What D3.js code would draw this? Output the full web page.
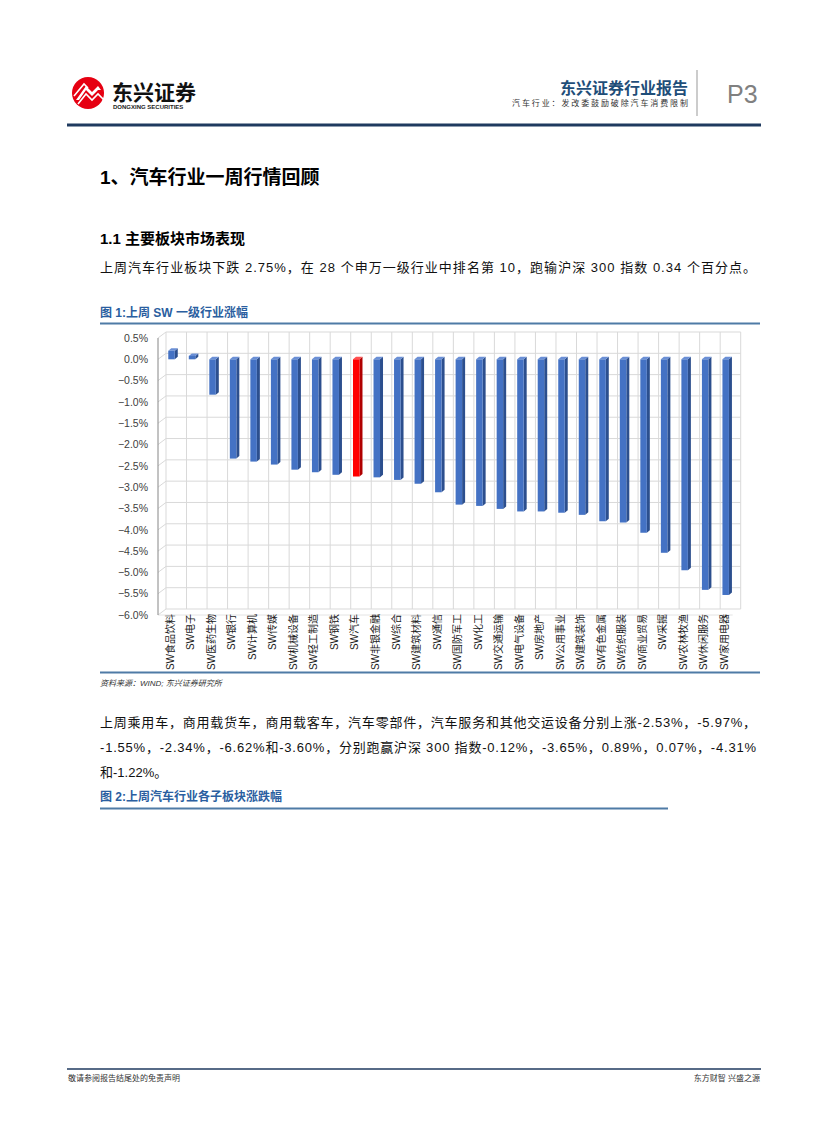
<!DOCTYPE html>
<html>
<head>
<meta charset="utf-8">
<script src="https://cdn.jsdelivr.net/npm/d3@7"></script>
<style>
  body { margin: 0; background: #fff; }
  svg { display: block; }
  text { font-family: "Liberation Sans", "Noto Sans CJK SC", sans-serif; }
</style>
</head>
<body>
<div id="page"></div>
<script>
// SW 一级行业 last week change (%)
const industries = ["SW食品饮料", "SW电子", "SW医药生物", "SW银行", "SW计算机", "SW传媒", "SW机械设备",
  "SW轻工制造", "SW钢铁", "SW汽车", "SW非银金融", "SW综合", "SW建筑材料", "SW通信", "SW国防军工",
  "SW化工", "SW交通运输", "SW电气设备", "SW房地产", "SW公用事业", "SW建筑装饰", "SW有色金属",
  "SW纺织服装", "SW商业贸易", "SW采掘", "SW农林牧渔", "SW休闲服务", "SW家用电器"];
const changes = [0.20, 0.08, -0.83, -2.33, -2.40, -2.47, -2.59, -2.65, -2.71, -2.75, -2.77, -2.83, -2.92,
  -3.12, -3.41, -3.44, -3.51, -3.57, -3.57, -3.60, -3.65, -3.80, -3.83, -4.07, -4.54, -4.95, -5.41, -5.53];
const yTicks = [0.5, 0, -0.5, -1, -1.5, -2, -2.5, -3, -3.5, -4, -4.5, -5, -5.5, -6];
const highlight = "SW汽车";

const W = 827, H = 1122;
const svg = d3.select("#page").append("svg").attr("width", W).attr("height", H);

// ---------- header ----------
const logo = svg.append("g");
logo.append("circle").attr("cx", 88).attr("cy", 93).attr("r", 16).attr("fill", "#E60012");
logo.append("path")
  .attr("d", "M76,100 L86,86 L92,92 L98,86 L101,90 L98,90 L92,96 L86,90 L79,100 Z")
  .attr("fill", "#fff");
logo.append("path")
  .attr("d", "M74,96 L84,84 L88,88 L84,84 Z M78,104 L86,94 L92,100 L98,94 L104,100")
  .attr("fill", "none").attr("stroke", "#fff").attr("stroke-width", 1.6);
svg.append("text").attr("x", 112).attr("y", 100).attr("font-size", 21).attr("font-weight", "bold")
  .attr("fill", "#111").text("东兴证券");
svg.append("text").attr("x", 113).attr("y", 109).attr("font-size", 6).attr("font-weight", "bold")
  .attr("fill", "#222").text("DONGXING SECURITIES");

svg.append("text").attr("x", 688).attr("y", 94).attr("text-anchor", "end").attr("font-size", 16)
  .attr("font-weight", "bold").attr("fill", "#1F4E79").text("东兴证券行业报告");
svg.append("text").attr("x", 512).attr("y", 106).attr("font-size", 8)
  .attr("textLength", 176).attr("lengthAdjust", "spacing")
  .attr("fill", "#333").text("汽车行业：发改委鼓励破除汽车消费限制");
svg.append("line").attr("x1", 697).attr("x2", 697).attr("y1", 70).attr("y2", 116)
  .attr("stroke", "#999").attr("stroke-width", 1);
svg.append("text").attr("x", 727).attr("y", 103).attr("font-size", 25).attr("fill", "#808080")
  .attr("font-family", "DejaVu Sans").attr("font-weight", 200).text("P3");
svg.append("line").attr("x1", 67).attr("x2", 761).attr("y1", 125).attr("y2", 125)
  .attr("stroke", "#1F3A5F").attr("stroke-width", 3);

// ---------- headings & paragraph ----------
svg.append("text").attr("x", 100).attr("y", 184).attr("font-size", 19).attr("font-weight", "bold")
  .attr("fill", "#000").text("1、汽车行业一周行情回顾");
svg.append("text").attr("x", 100).attr("y", 244).attr("font-size", 15).attr("font-weight", "bold")
  .attr("fill", "#000").text("1.1 主要板块市场表现");
svg.append("text").attr("x", 100).attr("y", 272).attr("font-size", 13).attr("fill", "#111")
  .attr("textLength", 656).attr("lengthAdjust", "spacing")
  .text("上周汽车行业板块下跌 2.75%，在 28 个申万一级行业中排名第 10，跑输沪深 300 指数 0.34 个百分点。");

// ---------- figure 1 ----------
svg.append("text").attr("x", 100).attr("y", 317).attr("font-size", 12).attr("font-weight", "bold")
  .attr("fill", "#2A5EA0").text("图 1:上周 SW 一级行业涨幅");
svg.append("line").attr("x1", 100).attr("x2", 760).attr("y1", 323.5).attr("y2", 323.5)
  .attr("stroke", "#4F7BA6").attr("stroke-width", 2);

const depth = { x: 8, y: -6 };       // back wall offset of the 3D plot
const x = d3.scaleBand().domain(industries).range([158, 732.7]);
const y = d3.scaleLinear().domain([-6, 0.5]).range([615, 338]);
const chart = svg.append("g");

// back wall grid
chart.selectAll(".hgrid").data(yTicks).join("line")
  .attr("x1", x.range()[0] + depth.x).attr("x2", x.range()[1] + depth.x)
  .attr("y1", d => y(d) + depth.y).attr("y2", d => y(d) + depth.y)
  .attr("stroke", "#D9D9D9").attr("stroke-width", 1);
chart.selectAll(".sgrid").data(yTicks).join("line")
  .attr("x1", x.range()[0]).attr("x2", x.range()[0] + depth.x)
  .attr("y1", d => y(d)).attr("y2", d => y(d) + depth.y)
  .attr("stroke", "#D9D9D9").attr("stroke-width", 1);
chart.selectAll(".vgrid").data(industries.concat(["_end"])).join("line")
  .attr("x1", (d, i) => x.range()[0] + i * x.step() + depth.x)
  .attr("x2", (d, i) => x.range()[0] + i * x.step() + depth.x)
  .attr("y1", y(0.5) + depth.y).attr("y2", y(-6) + depth.y)
  .attr("stroke", "#D9D9D9").attr("stroke-width", 1);
// floor front edge
chart.append("line")
  .attr("x1", x.range()[0]).attr("x2", x.range()[1])
  .attr("y1", y(-6)).attr("y2", y(-6)).attr("stroke", "#E4E4E4");

// y axis
chart.append("line").attr("x1", 158).attr("x2", 158).attr("y1", y(0.5)).attr("y2", y(-6))
  .attr("stroke", "#868686").attr("stroke-width", 1);
chart.selectAll(".ylab").data(yTicks).join("text")
  .attr("x", 148).attr("y", d => y(d)).attr("dy", "0.36em").attr("text-anchor", "end")
  .attr("font-size", 10.5).attr("fill", "#404040")
  .text(d => d3.format(".1f")(d) + "%");

// 3D bars
const bw = 6.5, bdx = 3, bdy = -2.5;
const bars = chart.selectAll(".bar").data(industries.map((d, i) => ({ name: d, v: changes[i] })))
  .join("g");
bars.each(function (d) {
  const g = d3.select(this);
  const x0 = x(d.name) + x.bandwidth() / 2;
  const yTop = y(Math.max(0, d.v)), yBot = y(Math.min(0, d.v));
  const red = d.name === highlight;
  const front = red ? "#FF0000" : "#4472C4";
  const side = red ? "#B00000" : "#2C4F8E";
  const top = red ? "#FF5050" : "#6A8FD6";
  g.append("path")
    .attr("d", `M${x0 + bw},${yTop} L${x0 + bw + bdx},${yTop + bdy} L${x0 + bw + bdx},${yBot + bdy} L${x0 + bw},${yBot} Z`)
    .attr("fill", side);
  g.append("path")
    .attr("d", `M${x0},${yTop} L${x0 + bdx},${yTop + bdy} L${x0 + bw + bdx},${yTop + bdy} L${x0 + bw},${yTop} Z`)
    .attr("fill", top);
  g.append("rect").attr("x", x0).attr("y", yTop).attr("width", bw).attr("height", Math.max(0.5, yBot - yTop))
    .attr("fill", front);
});

// category labels (vertical)
chart.selectAll(".xlab").data(industries).join("text")
  .attr("transform", d => `translate(${x(d) + x.bandwidth() / 2 + 2},614) rotate(-90)`)
  .attr("text-anchor", "end").attr("dy", "0.35em")
  .attr("font-size", 10).attr("fill", "#1a1a1a")
  .text(d => d);

svg.append("line").attr("x1", 100).attr("x2", 760).attr("y1", 672.5).attr("y2", 672.5)
  .attr("stroke", "#4F7BA6").attr("stroke-width", 2);
svg.append("text").attr("x", 100).attr("y", 686).attr("font-size", 8).attr("font-style", "italic")
  .attr("fill", "#333").text("资料来源：WIND; 东兴证券研究所");

// ---------- paragraph 2 ----------
const para2 = [
  "上周乘用车，商用载货车，商用载客车，汽车零部件，汽车服务和其他交运设备分别上涨-2.53%，-5.97%，",
  "-1.55%，-2.34%，-6.62%和-3.60%，分别跑赢沪深 300 指数-0.12%，-3.65%，0.89%，0.07%，-4.31%",
  "和-1.22%。"
];
svg.selectAll(".p2").data(para2).join("text")
  .attr("x", 100).attr("y", (d, i) => 727 + i * 25).attr("font-size", 13).attr("fill", "#111")
  .each(function (d, i) {
    if (i < 2) d3.select(this).attr("textLength", 656).attr("lengthAdjust", "spacing");
  })
  .text(d => d);

svg.append("text").attr("x", 100).attr("y", 801).attr("font-size", 12).attr("font-weight", "bold")
  .attr("fill", "#2A5EA0").text("图 2:上周汽车行业各子板块涨跌幅");
svg.append("line").attr("x1", 100).attr("x2", 668).attr("y1", 808.5).attr("y2", 808.5)
  .attr("stroke", "#4F7BA6").attr("stroke-width", 2);

// ---------- footer ----------
svg.append("line").attr("x1", 67).attr("x2", 761).attr("y1", 1069).attr("y2", 1069)
  .attr("stroke", "#1F3A5F").attr("stroke-width", 1.5);
svg.append("text").attr("x", 68).attr("y", 1081).attr("font-size", 8).attr("fill", "#333")
  .text("敬请参阅报告结尾处的免责声明");
svg.append("text").attr("x", 760).attr("y", 1081).attr("font-size", 8).attr("fill", "#333")
  .attr("text-anchor", "end").text("东方财智 兴盛之源");
</script>
</body>
</html>
